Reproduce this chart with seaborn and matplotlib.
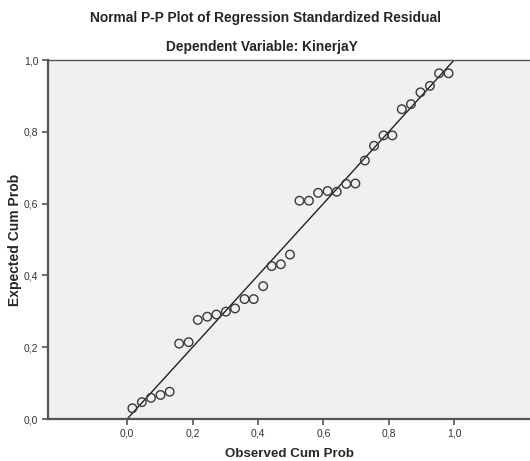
import matplotlib
matplotlib.use('Agg')
import matplotlib.pyplot as plt
import seaborn as sns
import pandas as pd

# observed / expected cumulative probabilities
observed = [0.016, 0.045, 0.073, 0.102, 0.130, 0.159, 0.188, 0.216, 0.245, 0.273,
            0.302, 0.330, 0.359, 0.387, 0.416, 0.442, 0.470, 0.498, 0.527, 0.556,
            0.584, 0.613, 0.641, 0.670, 0.698, 0.727, 0.755, 0.784, 0.811, 0.840,
            0.868, 0.897, 0.926, 0.954, 0.983]
expected = [0.030, 0.047, 0.059, 0.067, 0.076, 0.210, 0.214, 0.276, 0.285, 0.291,
            0.299, 0.308, 0.334, 0.334, 0.370, 0.426, 0.431, 0.458, 0.608, 0.608,
            0.630, 0.635, 0.633, 0.655, 0.656, 0.720, 0.761, 0.790, 0.790, 0.863,
            0.877, 0.910, 0.928, 0.963, 0.963]
ref_line = [0.0, 1.0]
ticks = [0.0, 0.2, 0.4, 0.6, 0.8, 1.0]
tick_labels = ['0,0', '0,2', '0,4', '0,6', '0,8', '1,0']

df = pd.DataFrame({'observed': observed, 'expected': expected})

sns.set_style('white')
plt.rcParams['font.family'] = ['Liberation Sans', 'DejaVu Sans']

fig = plt.figure(figsize=(5.3, 4.61), dpi=100)
ax = fig.add_axes([0.0906, 0.0911, 0.9094, 0.7787])
ax.set_facecolor('#f0f0f0')

ax.plot(ref_line, ref_line, color='#222222', linewidth=1.0, zorder=2)
sns.scatterplot(data=df, x='observed', y='expected', ax=ax, marker='o',
                s=38, facecolor='none', edgecolor='#3a3a3a', linewidth=1.0, zorder=3)

ax.set_xlim(-0.242, 1.232)
ax.set_ylim(0, 1.0)
ax.set_xticks(ticks)
ax.set_xticklabels(tick_labels)
ax.set_yticks(ticks)
ax.set_yticklabels(tick_labels)
ax.tick_params(axis='both', direction='out', length=4, width=1.2, color='#555555',
               labelsize=7.5, labelcolor='#333333', pad=3)
ax.xaxis.set_ticks_position('bottom')
ax.yaxis.set_ticks_position('left')

for side in ['left', 'bottom']:
    ax.spines[side].set_color('#555555')
    ax.spines[side].set_linewidth(1.6)
ax.spines['top'].set_color('#555555')
ax.spines['top'].set_linewidth(1.0)
ax.spines['right'].set_visible(False)

ax.set_xlabel('Observed Cum Prob', fontsize=9.6, fontweight='bold', labelpad=7)
ax.set_ylabel('Expected Cum Prob', fontsize=10, fontweight='bold', labelpad=1.5)

fig.text(0.5, 0.961, 'Normal P-P Plot of Regression Standardized Residual',
         ha='center', va='center', fontsize=9.9, fontweight='bold')
fig.text(0.495, 0.898, 'Dependent Variable: KinerjaY',
         ha='center', va='center', fontsize=9.9, fontweight='bold')

fig.savefig('out.png', dpi=100)
